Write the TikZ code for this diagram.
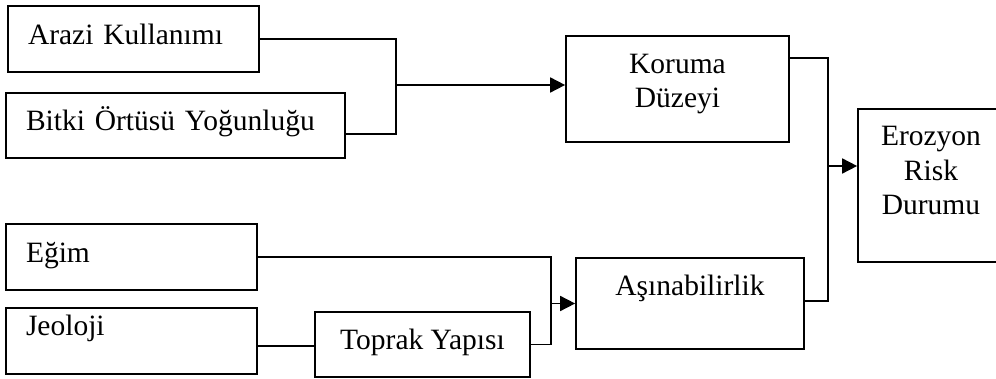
\documentclass[tikz,border=0pt]{standalone}
\usepackage{fontspec}
\setmainfont{Liberation Serif}
\usetikzlibrary{arrows.meta,positioning}

\begin{document}
\begin{tikzpicture}[x={(1pt,0)},y={(0,-1pt)},
	kutu/.style={draw,line width=1.7pt,inner sep=0pt,font=\fontsize{29.5}{34.5}\selectfont,text height=20.6pt,text depth=10pt},
	solkutu/.style={kutu,align=left,inner xsep=20pt,text width=#1},
	ortakutu/.style={kutu,align=center,minimum width=#1},
	baglanti/.style={line width=1.7pt},
	ok/.style={baglanti,-{Triangle[length=15pt,width=15pt]}}]

	\useasboundingbox (0,0) rectangle (996,379);

	\node[solkutu=211pt,minimum height=66pt] (arazi) at (133.5,39) {Arazi Kullanımı};
	\node[solkutu=299pt,minimum height=65pt] (bitki) at (175.5,125.5) {Bitki Örtüsü Yoğunluğu};
	\node[solkutu=211pt,minimum height=66pt] (egim) at (131.5,257) {Eğim};
	\node[solkutu=211pt,minimum height=66pt,text depth=30.6pt] (jeoloji) at (131.5,341) {Jeoloji};
	\node[ortakutu=215pt,minimum height=65pt,text depth=11.5pt] (toprak) at (422.5,344.5) {Toprak Yapısı};
	\node[ortakutu=223pt,minimum height=106pt,text height=40pt,text depth=2pt] (koruma) at (677.5,89) {Koruma\\Düzeyi};
	\node[ortakutu=228pt,minimum height=91pt,text depth=35.6pt] (asinabilirlik) at (690,303.5) {Aşınabilirlik};
	\node[ortakutu=146pt,minimum height=153pt,text height=60pt,text depth=1pt] (erozyon) at (931,185.5) {Erozyon\\Risk\\Durumu};

	\coordinate (birlesim1) at (396,85);
	\coordinate (birlesim2) at (828,166);
	\coordinate (birlesim3) at (551,303.5);

	\draw[baglanti] (arazi.east) -- (arazi.east -| birlesim1) -- ([yshift=-8.5pt]bitki.east -| birlesim1) -- ([yshift=-8.5pt]bitki.east); %koruma girdileri
	\draw[ok] (birlesim1) -- (birlesim1 -| koruma.west);
	\draw[baglanti] (egim.east) -| (birlesim3) |- (toprak.east); %asinabilirlik girdileri
	\draw[ok] (birlesim3) -- (asinabilirlik.west);
	\draw[baglanti] ([yshift=-5pt]jeoloji.east) -- ([yshift=-5pt]jeoloji.east -| toprak.west);
	\draw[baglanti] ([yshift=31pt]koruma.east) -| (birlesim2) |- ([yshift=2.5pt]asinabilirlik.east); %erozyon girdileri
	\draw[ok] (birlesim2) -- (birlesim2 -| erozyon.west);

\end{tikzpicture}
\end{document}
